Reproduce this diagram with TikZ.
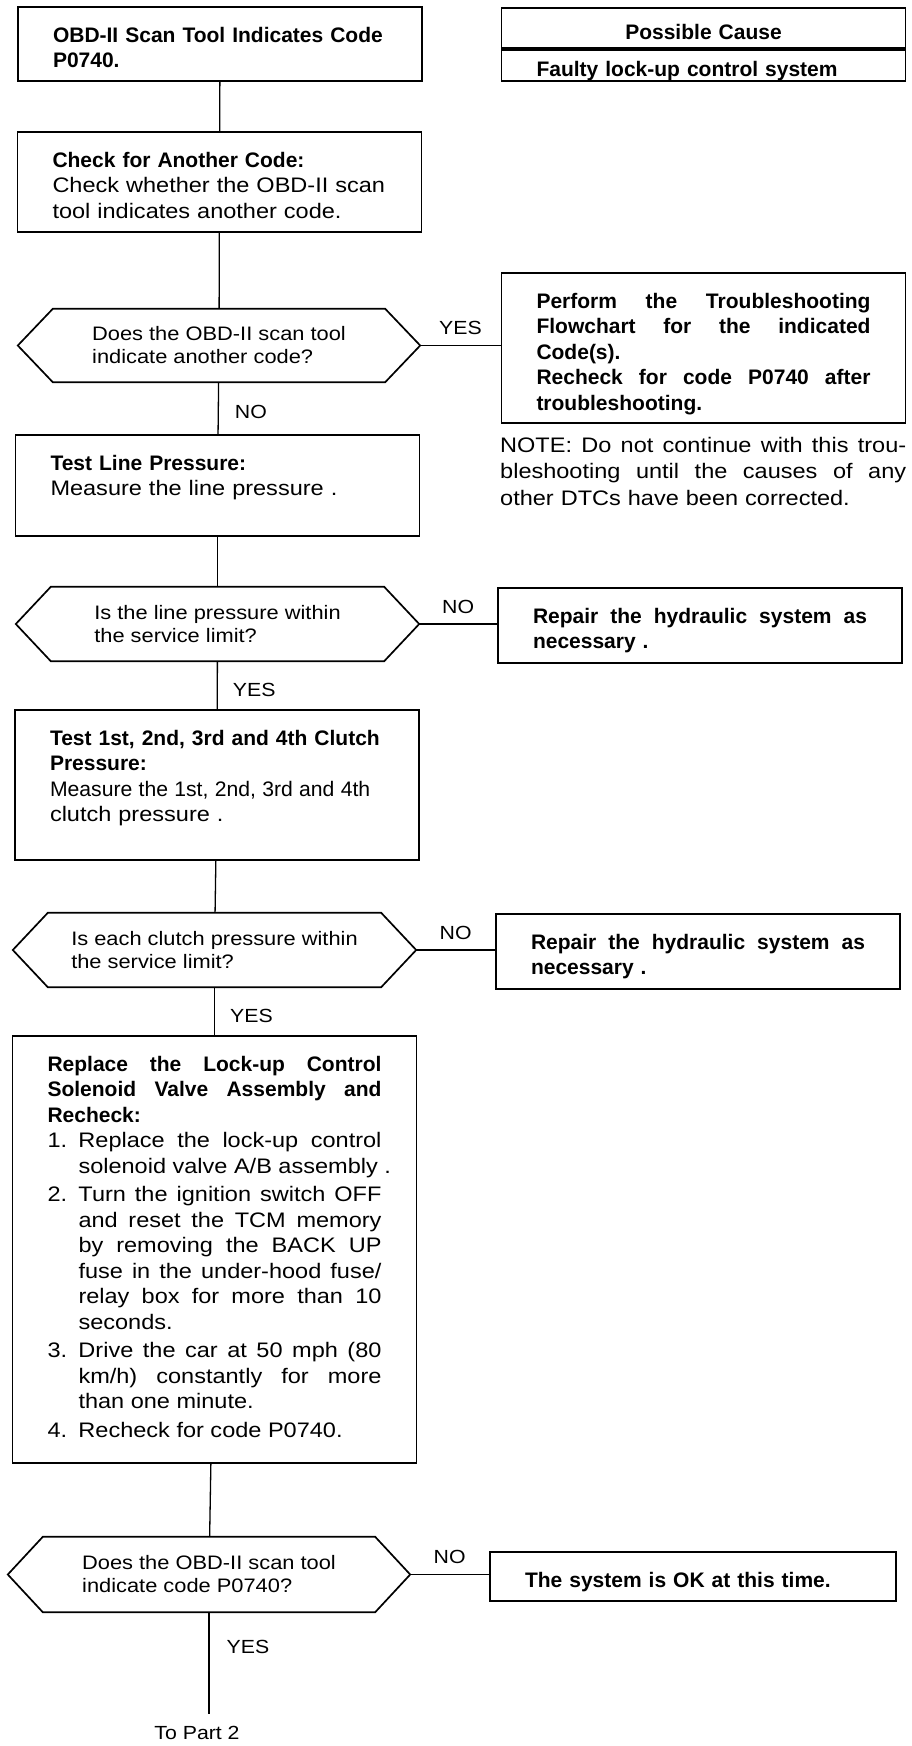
\documentclass[tikz,border=0pt]{standalone}
\usepackage{fontspec}
\usepackage{graphicx}
\setmainfont{Liberation Sans}
\newfontfamily\widefont{Liberation Sans}[FakeStretch=1.12]
\usetikzlibrary{positioning}
\newcommand{\boldtxt}{\normalfont\bfseries}
\newcommand{\bodytxt}{\widefont\mdseries}
\newcommand{\jline}[1]{\makebox[\linewidth][s]{\spaceskip=.3333em plus 1em minus .1em\relax#1}}
\newcommand{\jitem}[2]{\makebox[31pt][l]{#1}\makebox[\dimexpr\linewidth-31pt\relax][s]{\spaceskip=.3333em plus 1em minus .1em\relax#2}}
\newcommand{\ritem}[2]{\makebox[31pt][l]{#1}\mbox{\spaceskip=0pt\relax#2}}
\newcommand{\hexa}[1]{\draw[line width=1.7pt] (#1.west) -- ([xshift=35pt]#1.north west) -- ([xshift=-35pt]#1.north east) -- (#1.east) -- ([xshift=-35pt]#1.south east) -- ([xshift=35pt]#1.south west) -- cycle;}
\tikzset{
	stepbox/.style={draw,line width=1.8pt,text width=334pt,align=left,inner xsep=35pt,inner ysep=0pt,text height=35pt,font=\widefont\fontsize{21}{25.5}\selectfont},
	ask/.style={minimum width=402pt,minimum height=74pt,inner sep=0pt,align=left,font=\widefont\fontsize{19.5}{23}\selectfont},
	link/.style={line width=1.3pt},
	answer/.style={font=\widefont\fontsize{19}{22}\selectfont,inner sep=2pt},
	note/.style={text width=406pt,align=left,inner sep=0pt,font=\widefont\fontsize{21}{26.5}\selectfont}
}
\begin{document}
\begin{tikzpicture}[x=1pt,y=-1pt]
		\fill[white] (0,0) rectangle (912,1746);
		\useasboundingbox (0,0) rectangle (912,1746);
		\node[stepbox,align=center,text height=31.5pt,text depth=8.5pt] (cause) at (703.5,28) {\boldtxt Possible Cause};
		\node[stepbox,text height=26.5pt,text depth=4.5pt,below=0pt of cause] (faulty) {\boldtxt Faulty lock-up control system};
		\node[stepbox,text depth=39pt] (start) at (220,44) {\boldtxt OBD-II Scan Tool Indicates Code\\P0740.};
		\node[stepbox,text depth=65pt] (check) at (219.5,182) {\boldtxt Check for Another Code:\\ \bodytxt Check whether the OBD-II scan\\tool indicates another code.};
		\node[ask,minimum height=73pt] (q1) at (219,345.5) {Does the OBD-II scan tool\\indicate another code?};
		\node[stepbox,text depth=115pt] (other) at (703.5,348) {\boldtxt \jline{Perform the Troubleshooting}\\ \jline{Flowchart for the indicated}\\ Code(s).\\ \jline{Recheck for code P0740 after}\\ troubleshooting.};
		\node[note,anchor=base west] (note) at (500,452) {\jline{NOTE: Do not continue with this trou-}\\ \jline{bleshooting until the causes of any}\\ other DTCs have been corrected.};
		\node[stepbox,text depth=66pt] (linep) at (217.5,485.5) {\boldtxt Test Line Pressure:\\ \bodytxt Measure the line pressure .};
		\node[ask,minimum width=403pt] (q2) at (217.5,624) {Is the line pressure within\\the service limit?};
		\node[stepbox,text depth=40pt] (fix1) at (700,625.5) {\boldtxt \jline{Repair the hydraulic system as}\\ necessary .};
		\node[stepbox,text depth=115pt] (clutch) at (217,785) {\boldtxt Test 1st, 2nd, 3rd and 4th Clutch\\ Pressure:\\ \bodytxt \scalebox{.9}[1]{Measure the 1st, 2nd, 3rd and 4th}\\ clutch pressure .};
		\node[ask,minimum width=403pt] (q3) at (214.5,950) {Is each clutch pressure within\\the service limit?};
		\node[stepbox,text depth=40pt] (fix2) at (698,951.5) {\boldtxt \jline{Repair the hydraulic system as}\\ necessary .};
		\node[stepbox,text depth=392pt] (valve) at (214.5,1249.5) {\boldtxt \jline{Replace the Lock-up Control}\\ \jline{Solenoid Valve Assembly and}\\ Recheck:\\ \bodytxt
			\jitem{1.}{Replace the lock-up control}\\ \ritem{}{solenoid valve A/B assembly .}\\[3pt]
			\jitem{2.}{Turn the ignition switch OFF}\\ \jitem{}{and reset the TCM memory}\\ \jitem{}{by removing the BACK UP}\\ \jitem{}{fuse in the under-hood fuse/}\\ \jitem{}{relay box for more than 10}\\ \ritem{}{seconds.}\\[3pt]
			\jitem{3.}{Drive the car at 50 mph (80}\\ \jitem{}{km/h) constantly for more}\\ \ritem{}{than one minute.}\\[3pt]
			\ritem{4.}{Recheck for code P0740.}};
		\node[ask,minimum height=75pt] (q4) at (209,1574.5) {Does the OBD-II scan tool\\indicate code P0740?};
		\node[stepbox,text depth=14pt,text width=336pt] (okay) at (693,1576.5) {\boldtxt The system is OK at this time.};
		\node[answer] (part2) at (197,1733) {To Part 2};
		\foreach \q in {q1,q2,q3,q4}{\hexa{\q}}
		\draw[link] (start)--(check);
		\draw[link] (check)--(q1);
		\draw[link] (q1.east)--node[answer,above=8pt]{YES}(q1.east -| other.west);
		\draw[link] (q1)--node[answer,right=14pt,pos=.58]{NO}(linep);
		\draw[link] (linep)--(q2);
		\draw[link] (q2.east)--node[answer,above=8pt]{NO}(q2.east -| fix1.west);
		\draw[link] (q2)--node[answer,right=13pt,pos=.6]{YES}(clutch);
		\draw[link] (clutch)--(q3);
		\draw[link] (q3.east)--node[answer,above=8pt]{NO}(q3.east -| fix2.west);
		\draw[link] (q3)--node[answer,right=13pt,pos=.6]{YES}(valve);
		\draw[link] (valve)--(q4);
		\draw[link] (q4.east)--node[answer,above=8pt]{NO}(q4.east -| okay.west);
		\draw[link,shorten >=10pt] (q4.south)--node[answer,right=15pt,pos=.31]{YES}(q4.south |- part2.north);
\end{tikzpicture}
\end{document}
